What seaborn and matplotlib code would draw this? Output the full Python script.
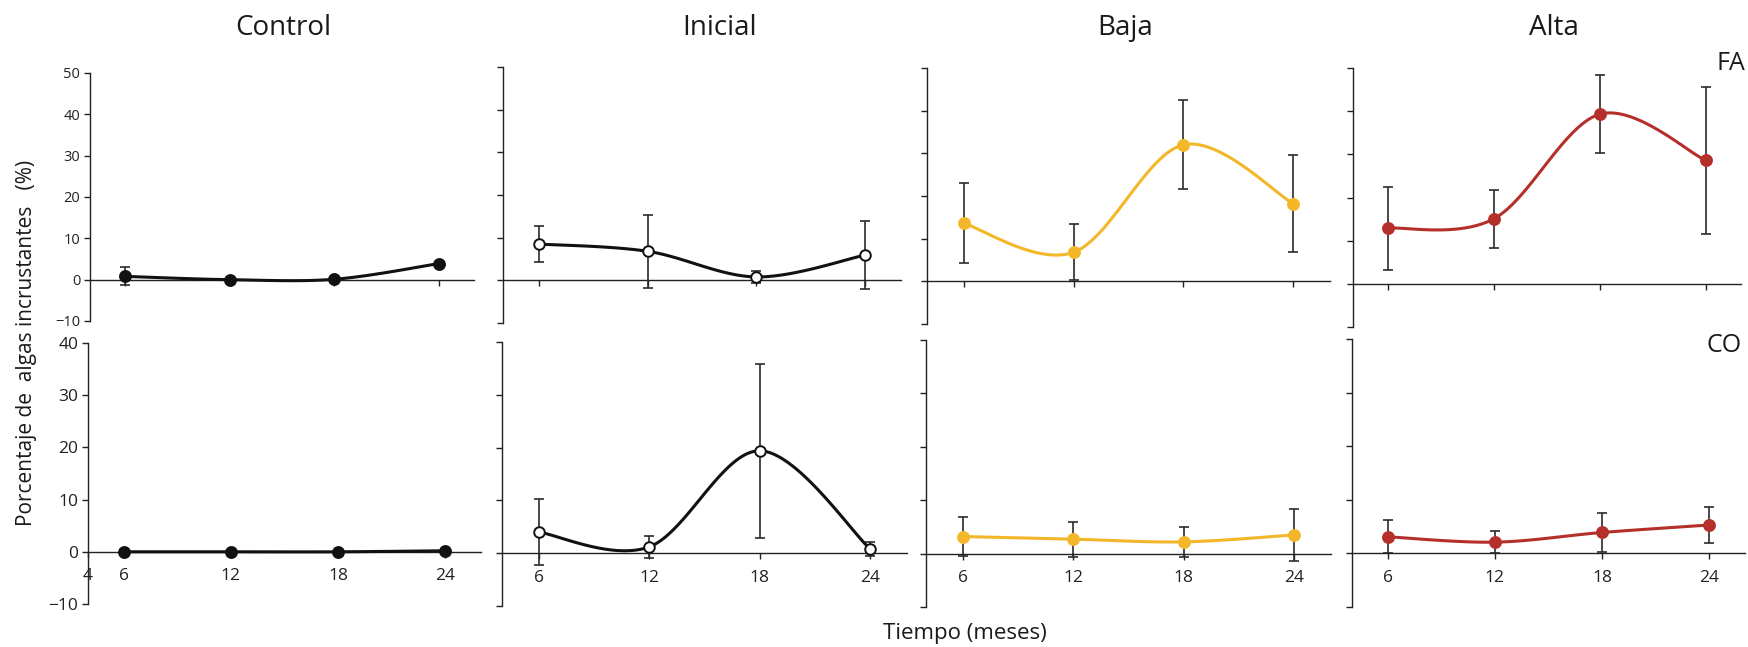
import numpy as np
import pandas as pd
import matplotlib
matplotlib.use("Agg")
import matplotlib.pyplot as plt
import seaborn as sns

# Meses de muestreo y tratamientos
months = [6, 12, 18, 24]
treatments = ["Control", "Inicial", "Baja", "Alta"]

# FA (fila superior): media y error
control_fa = [0.8, 0.0, 0.1, 3.9]
control_fa_err = [2.2, 0.0, 0.0, 0.0]
inicial_fa = [8.5, 6.8, 0.8, 5.9]
inicial_fa_err = [4.3, 8.6, 1.4, 8.0]
baja_fa = [13.6, 6.8, 32.0, 18.2]
baja_fa_err = [9.4, 6.6, 10.4, 11.4]
alta_fa = [12.9, 15.1, 39.3, 28.6]
alta_fa_err = [9.6, 6.7, 9.1, 17.0]

# CO (fila inferior)
control_co = [0.0, 0.0, 0.0, 0.2]
control_co_err = [0.0, 0.0, 0.0, 0.0]
inicial_co = [4.0, 1.2, 19.4, 0.8]
inicial_co_err = [6.2, 2.1, 16.5, 1.4]
baja_co = [3.2, 2.7, 2.2, 3.5]
baja_co_err = [3.6, 3.3, 2.8, 4.9]
alta_co = [3.1, 2.1, 3.9, 5.3]
alta_co_err = [3.1, 2.0, 3.6, 3.3]

fa_vals = [control_fa, inicial_fa, baja_fa, alta_fa]
fa_errs = [control_fa_err, inicial_fa_err, baja_fa_err, alta_fa_err]
co_vals = [control_co, inicial_co, baja_co, alta_co]
co_errs = [control_co_err, inicial_co_err, baja_co_err, alta_co_err]

yticks_fa = [-10, 0, 10, 20, 30, 40, 50]
yticks_co = [-10, 0, 10, 20, 30, 40]

# estilo
line_colors = {"Control": "#111111", "Inicial": "#111111", "Baja": "#F4B72A", "Alta": "#B5302A"}
face_colors = {"Control": "#111111", "Inicial": "white", "Baja": "#F4B72A", "Alta": "#B5302A"}
edge_colors = {"Control": "#111111", "Inicial": "#111111", "Baja": "#F4B72A", "Alta": "#B5302A"}

sns.set_theme(style="ticks")
plt.rcParams["font.family"] = ["Open Sans", "DejaVu Sans"]


def smooth_curve(x, y, n=40):
    # Excel-like smoothed line (Catmull-Rom as cubic Bezier)
    x = np.asarray(x, float)
    y = np.asarray(y, float)
    px = np.concatenate([[x[0]], x, [x[-1]]])
    py = np.concatenate([[y[0]], y, [y[-1]]])
    xs, ys = [], []
    t = np.linspace(0, 1, n)
    for i in range(1, len(px) - 2):
        p0 = np.array([px[i], py[i]])
        p3 = np.array([px[i + 1], py[i + 1]])
        c1 = p0 + (np.array([px[i + 1], py[i + 1]]) - np.array([px[i - 1], py[i - 1]])) / 6
        c2 = p3 - (np.array([px[i + 2], py[i + 2]]) - p0) / 6
        b = ((1 - t) ** 3)[:, None] * p0 + (3 * (1 - t) ** 2 * t)[:, None] * c1 \
            + (3 * (1 - t) * t ** 2)[:, None] * c2 + (t ** 3)[:, None] * p3
        xs.append(b[:, 0])
        ys.append(b[:, 1])
    return np.concatenate(xs), np.concatenate(ys)


W, H = 1748, 647
fig = plt.figure(figsize=(W / 100, H / 100), dpi=100)


def px_axes(left, top, right, bottom):
    return fig.add_axes([left / W, 1 - bottom / H, (right - left) / W, (bottom - top) / H])


top_boxes = [(90, 73, 474, 321), (503, 67, 901, 323), (927, 68, 1330, 324), (1353, 68, 1741, 327)]
bot_boxes = [(88, 343, 481, 604), (502, 342, 907, 606), (926, 340, 1331, 607), (1352, 339, 1745, 607)]

for row, (boxes, vals, errs, yticks, ylim) in enumerate([
        (top_boxes, fa_vals, fa_errs, yticks_fa, (-10, 50)),
        (bot_boxes, co_vals, co_errs, yticks_co, (-10, 40))]):
    for j, name in enumerate(treatments):
        ax = px_axes(*boxes[j])
        df = pd.DataFrame({"mes": months, "valor": vals[j], "err": errs[j]})

        sx, sy = smooth_curve(df["mes"], df["valor"])
        ax.plot(sx, sy, color=line_colors[name], lw=2.2, zorder=3, solid_capstyle="round")
        ax.errorbar(df["mes"], df["valor"], yerr=df["err"], fmt="none", ecolor="#2b2b2b",
                    elinewidth=1.2, capsize=3.5, capthick=1.2, zorder=2)
        sns.scatterplot(data=df, x="mes", y="valor", ax=ax, s=62 if name != "Inicial" else 58,
                        color=face_colors[name], edgecolor=edge_colors[name],
                        linewidth=1.4, zorder=4, legend=False, clip_on=False)

        ax.set_xlim(4, 26)
        ax.set_ylim(*ylim)
        ax.set_yticks(yticks)
        ax.spines["top"].set_visible(False)
        ax.spines["right"].set_visible(False)
        ax.spines["bottom"].set_position(("data", 0))
        for s in ("left", "bottom"):
            ax.spines[s].set_linewidth(1.0)
            ax.spines[s].set_color("#222222")
        ax.tick_params(axis="both", direction="out", length=4, width=1.0, color="#222222",
                       labelcolor="#222222", pad=3)
        ax.set_xlabel("")
        ax.set_ylabel("")

        if row == 1 and j == 0:
            ax.set_xticks([4] + months)
        else:
            ax.set_xticks(months)
        if row == 1:
            ax.tick_params(axis="x", labelsize=12.5, pad=8)
        else:
            ax.set_xticklabels([])
        if j == 0:
            ax.tick_params(axis="y", labelsize=10.5 if row == 0 else 12.5)
        else:
            ax.set_yticklabels([])

title_x = [283, 720, 1125, 1554]
for name, tx in zip(treatments, title_x):
    fig.text(tx / W, 1 - 28 / H, name, ha="center", va="center", fontsize=20, color="#1a1a1a")

fig.text(1745 / W, 1 - 63 / H, "FA", ha="right", va="center", fontsize=18, color="#1a1a1a")
fig.text(1742 / W, 1 - 346 / H, "CO", ha="right", va="center", fontsize=18, color="#1a1a1a")
fig.text(965 / W, 1 - 633 / H, "Tiempo (meses)", ha="center", va="center", fontsize=16, color="#1a1a1a")
fig.text(27 / W, 1 - 343 / H, "Porcentaje de  algas incrustantes   (%)", rotation=90,
         ha="center", va="center", fontsize=15, color="#1a1a1a")

fig.savefig("out.png", dpi=100)
